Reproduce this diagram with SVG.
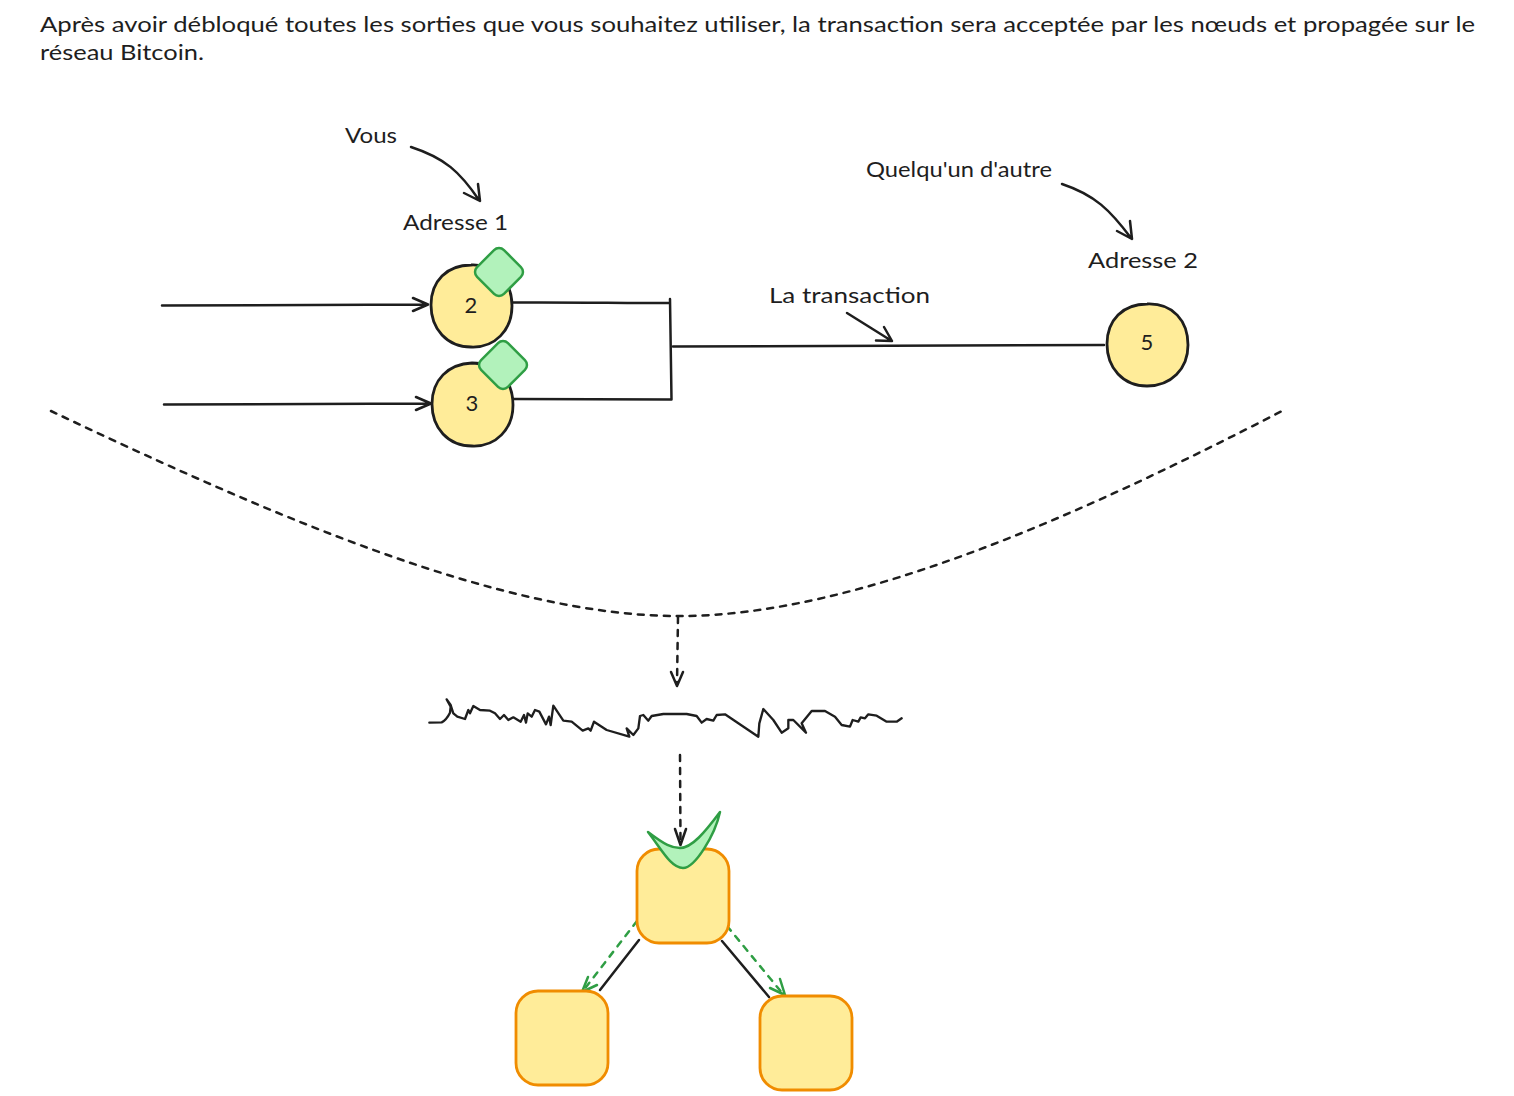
<svg xmlns="http://www.w3.org/2000/svg" width="1514" height="1096" viewBox="0 0 1514 1096">
<style>
text{font-family:"Lato","Liberation Sans",sans-serif;fill:#1e1e1e;font-size:22px}
.n{text-anchor:middle;font-size:22px}
.l{fill:none;stroke:#1e1e1e;stroke-width:2.5;stroke-linecap:round;stroke-linejoin:round}
.d{stroke-dasharray:6 7}
.c{fill:#ffec99;stroke:#1e1e1e;stroke-width:2.8}
.g{fill:#b2f2bb;stroke:#2f9e44;stroke-width:2.5;stroke-linejoin:round}
.b{fill:#ffec99;stroke:#f08c00;stroke-width:2.8}
.gl{fill:none;stroke:#2f9e44;stroke-width:2.5;stroke-linecap:round;stroke-linejoin:round}
</style>
<g id="caption">
<text x="40" y="32" textLength="1435" lengthAdjust="spacingAndGlyphs">Après avoir débloqué toutes les sorties que vous souhaitez utiliser, la transaction sera acceptée par les nœuds et propagée sur le</text>
<text x="40" y="60" textLength="164" lengthAdjust="spacingAndGlyphs">réseau Bitcoin.</text>
</g>
<g id="connectors">
<path class="l" d="M162 305.500L427 304.500M413 298L428 304.500L413 311"/>
<path class="l" d="M164 404.500L430 403.500M416 397L431 403.500L416 410"/>
<path class="l" d="M512 302.500C560 302 620 303 670 303M670 299L671.500 399.500L513 399"/>
<path class="l" d="M673 346.500L1104 345"/>
<path class="l" d="M847 313L891 340.500M876 340.500L892 341L884 327"/>
<path class="l" d="M411 147C445 158 460 172 479 200M464 193L480 201L478 184"/>
<path class="l" d="M1062 184C1095 195 1110 210 1131 238M1117 231L1132 239L1130 221"/>
<path class="l d" d="M51 411C260 510 500 617 680 616C860 616 1090 510 1284 410"/>
<path class="l d" d="M678 617L677 684"/>
<path class="l" d="M671 672L677 686L683 672"/>
<path class="l" d="M680 755L680.500 843" stroke-dasharray="6 7"/>
<path class="l" d="M675 829L680.500 845L686 829"/>
<path class="l" d="M639 940L600 990" stroke-width="3.500"/>
<path class="l" d="M722 941L769 997"/>
<path class="gl d" d="M637 921L583 991"/>
<path class="gl" d="M588 977L582 992L597 985"/>
<path class="gl d" d="M727 926L783 994"/>
<path class="gl" d="M770 988L785 995L780 979"/>
<g transform="translate(400 680) scale(.33333)">
<path class="l" style="stroke-width:7" d="M88 128L125 127C135 122 145 108 150 98L152 80L140 58L152 75L160 100L172 110L195 117L205 90L210 100L220 78L240 90L270 92L285 100L300 117L312 105L325 120L340 112L362 125L372 105L378 128L383 100L395 110L405 90L418 95L438 133L447 110L452 135L460 77L472 95L490 122L515 125L548 152L565 145L572 152L582 125L620 150L688 170L680 145L700 165L715 145L720 108L730 105L745 122L755 108L790 102L860 102L890 108L905 128L920 117L940 122L950 105L975 103L1075 170L1078 130L1090 87L1120 120L1145 158L1165 145L1165 120L1180 120L1218 158L1205 130L1235 93L1275 93L1305 110L1325 135L1350 140L1358 120L1375 125L1382 112L1395 115L1405 103L1430 107L1460 125L1490 125L1505 115"/>
</g>
</g>
<g id="node-2">
<path class="c" d="M471 265C497 264 512 282 512 306C512 330 495 348 471 347C447 347 431 329 431 305C431 281 447 265 471 265Z"/>
<text class="n" x="471" y="313">2</text>
<rect class="g" x="-19" y="-19" width="38" height="38" rx="7" transform="translate(499 272) rotate(45)"/>
</g>
<g id="node-3">
<path class="c" d="M472 363C498 363 513 381 513 405C513 429 496 447 472 446C448 446 432 428 432 404C432 380 448 364 472 363Z"/>
<text class="n" x="472" y="411">3</text>
<rect class="g" x="-19" y="-19" width="38" height="38" rx="7" transform="translate(503 365) rotate(45)"/>
</g>
<g id="node-5">
<path class="c" d="M1147 304C1173 303 1188 321 1188 345C1188 369 1171 386 1147 386C1123 386 1107 368 1107 344C1107 320 1123 304 1147 304Z"/>
<text class="n" x="1147" y="350">5</text>
</g>
<g id="labels">
<text x="345" y="143" textLength="52" lengthAdjust="spacingAndGlyphs">Vous</text>
<text x="403" y="230" textLength="105" lengthAdjust="spacingAndGlyphs">Adresse 1</text>
<text x="866" y="177" textLength="186" lengthAdjust="spacingAndGlyphs">Quelqu'un d'autre</text>
<text x="1088" y="268" textLength="110" lengthAdjust="spacingAndGlyphs">Adresse 2</text>
<text x="769" y="303" textLength="161" lengthAdjust="spacingAndGlyphs">La transaction</text>
</g>
<g id="box-top">
<rect class="b" x="637" y="849" width="92" height="94" rx="22"/>
<path class="g" d="M648 832C665 845 672 848 680 848C692 848 705 832 720 812C715 835 695 868 683 868C671 868 662 850 648 832Z"/>
</g>
<g id="box-left">
<rect class="b" x="516" y="991" width="92" height="94" rx="22"/>
</g>
<g id="box-right">
<rect class="b" x="760" y="996" width="92" height="94" rx="22"/>
</g>
</svg>
